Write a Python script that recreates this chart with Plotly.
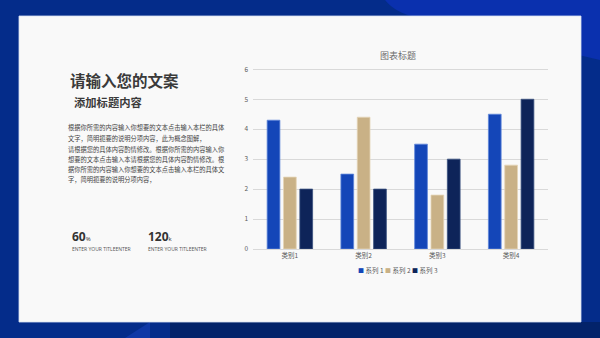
import plotly.graph_objects as go

categories = ["类别1", "类别2", "类别3", "类别4"]
series_names = ["系列 1", "系列 2", "系列 3"]
series1 = [4.3, 2.5, 3.5, 4.5]
series2 = [2.4, 4.4, 1.8, 2.8]
series3 = [2.0, 2.0, 3.0, 5.0]
y_ticks = [0, 1, 2, 3, 4, 5, 6]

colors = ["#1446B8", "#C9B186", "#0E2459"]
edge = ["#5F86D9", "#E4D4B6", "#3A507F"]

W, H = 600, 338
FONT = "Noto Sans CJK SC"

fig = go.Figure()
for name, vals, c, e in zip(series_names, [series1, series2, series3], colors, edge):
    fig.add_trace(go.Bar(x=categories, y=vals, name=name, showlegend=False,
                         marker=dict(color=c, line=dict(color=e, width=0.8))))

def px(x):
    return x / W

def py(y):
    return 1 - y / H

shapes = [
    # lighter swoosh top-right
    dict(type="path", xref="paper", yref="paper",
         path=(f"M {px(385)},{py(0)} C {px(392)},{py(8)} {px(400)},{py(14)} {px(420)},{py(18)} "
               f"L {px(600)},{py(60)} L {px(600)},{py(0)} Z"),
         fillcolor="#0A30AE", line=dict(width=0), layer="below"),
    # bottom darker band
    dict(type="rect", xref="paper", yref="paper", x0=px(170), x1=1, y0=0, y1=py(322),
         fillcolor="#03236A", line=dict(width=0), layer="below"),
    # lighter wedge bottom-left
    dict(type="path", xref="paper", yref="paper",
         path=f"M {px(125)},0 L {px(150)},{py(322)} L {px(150)},0 Z",
         fillcolor="#0F38A6", line=dict(width=0), layer="below"),
    # white panel
    dict(type="rect", xref="paper", yref="paper", x0=px(19), x1=px(581), y0=py(322), y1=py(16),
         fillcolor="#F9F9F9", line=dict(color="#D8E2F5", width=0.8), layer="below"),
]

def ann(text, x, y, size, color, family=FONT, xanchor="left"):
    return dict(text=text, x=px(x), y=py(y), xref="paper", yref="paper",
                xanchor=xanchor, yanchor="middle", showarrow=False,
                font=dict(family=family, size=size, color=color))

annotations = [
    ann("<b>请输入您的文案</b>", 68, 80, 15.5, "#3A3A3A"),
    ann("<b>添加标题内容</b>", 72, 102, 11.3, "#3A3A3A"),
    ann("<b>60</b><span style='font-size:6px'>%</span>", 70, 236, 12, "#333333", "Open Sans"),
    ann("<b>120</b><span style='font-size:6px'>k</span>", 146, 236, 12, "#333333", "Open Sans"),
    ann("ENTER YOUR TITLEENTER", 70, 249, 5, "#555555", "Open Sans"),
    ann("ENTER YOUR TITLEENTER", 146, 249, 5, "#555555", "Open Sans"),
    ann("图表标题", 398, 55, 9, "#6B6B6B", xanchor="center"),
]

para_lines = [
    ("根据你所需的内容输入你想要的文本点击输入本栏的具体", 127.5),
    ("文字，简明扼要的说明分项内容，此为概念图解，", 138.5),
    ("请根据您的具体内容酌情修改。根据你所需的内容输入你", 149.5),
    ("想要的文本点击输入本请根据您的具体内容酌情修改。根", 159.5),
    ("据你所需的内容输入你想要的文本点击输入本栏的具体文", 169.5),
    ("字，简明扼要的说明分项内容，", 179.5),
]
for t, yy in para_lines:
    annotations.append(ann(t, 65.5, yy, 6.25, "#444444"))

legend_text = "&nbsp;".join(
    f"<span style='color:{c};font-size:6px'>■</span> {n}" for n, c in zip(series_names, colors))
annotations.append(ann(legend_text, 398, 270, 6.5, "#595959", xanchor="center"))

fig.update_layout(
    width=W, height=H,
    margin=dict(l=0, r=0, t=0, b=0, pad=0, autoexpand=False),
    paper_bgcolor="#042C8A",
    plot_bgcolor="rgba(0,0,0,0)",
    barmode="group", bargap=0.335, bargroupgap=0.22,
    showlegend=False,
    xaxis=dict(domain=[px(253), px(548)], showgrid=False, showline=True, linecolor="#D9D9D9",
               linewidth=1, ticks="", automargin=False,
               tickfont=dict(family=FONT, size=6.5, color="#595959")),
    yaxis=dict(domain=[py(249), py(66.3)], range=[0, 6.1], tickvals=y_ticks, showgrid=True,
               gridcolor="#D9D9D9", gridwidth=0.8, zeroline=False, showline=False, ticks="",
               ticklabelstandoff=4, automargin=False,
               tickfont=dict(family=FONT, size=6.5, color="#595959")),
    shapes=shapes,
    annotations=annotations,
)

fig.write_html("out.html")
